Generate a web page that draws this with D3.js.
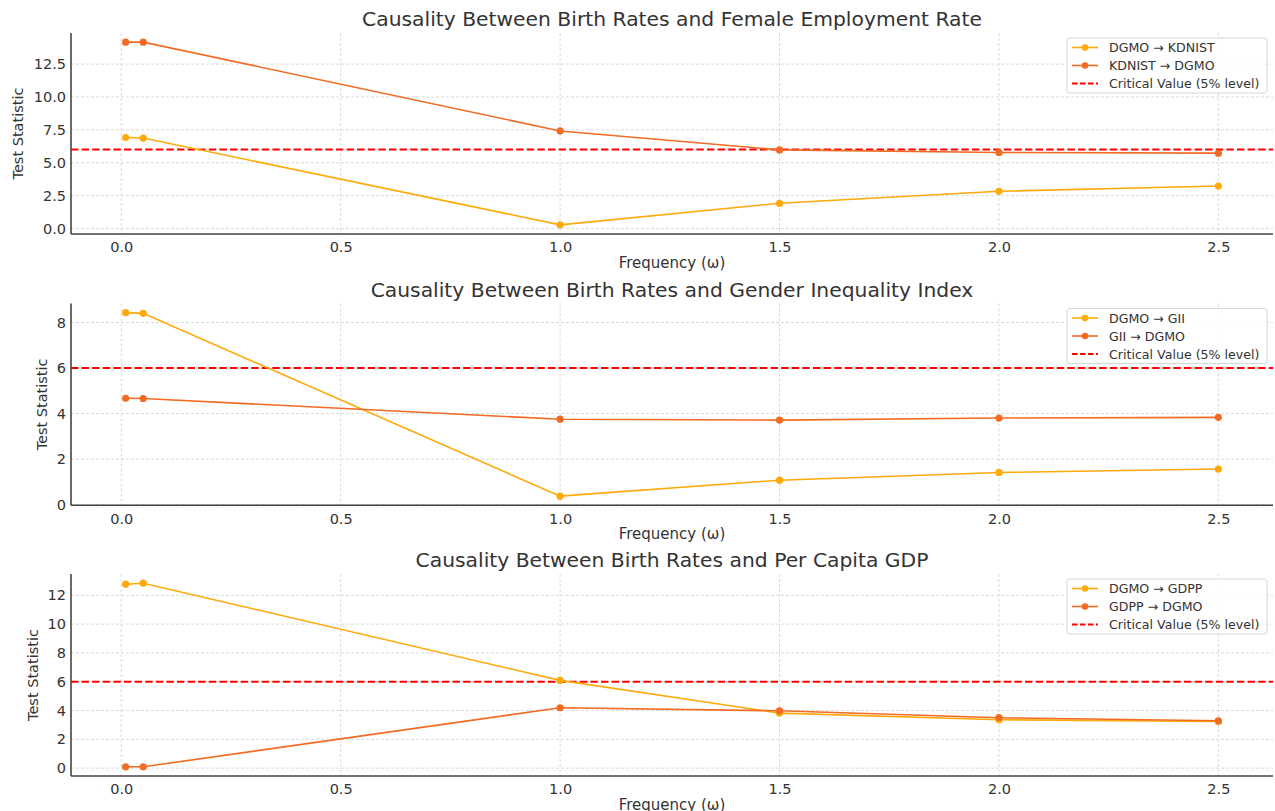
<!DOCTYPE html>
<html>
<head>
<meta charset="utf-8">
<script src="https://cdn.jsdelivr.net/npm/d3@7"></script>
<style>
  html, body { margin: 0; padding: 0; background: #fff; }
  svg { display: block; font-family: "DejaVu Sans", sans-serif; }
</style>
</head>
<body>
<svg id="chart" width="1275" height="811"></svg>
<script>
// ---- data ----
const frequencies = [0.01, 0.05, 1.0, 1.5, 2.0, 2.5];
const xTicks = [0.0, 0.5, 1.0, 1.5, 2.0, 2.5];
const criticalValue = 6;

const titles = [
  "Causality Between Birth Rates and Female Employment Rate",
  "Causality Between Birth Rates and Gender Inequality Index",
  "Causality Between Birth Rates and Per Capita GDP"
];

const dgmoToKdnist = [6.92, 6.88, 0.28, 1.92, 2.83, 3.23];
const kdnistToDgmo = [14.17, 14.17, 7.42, 5.98, 5.78, 5.73];

const dgmoToGii = [8.43, 8.40, 0.37, 1.07, 1.41, 1.56];
const giiToDgmo = [4.67, 4.66, 3.75, 3.71, 3.80, 3.83];

const dgmoToGdpp = [12.77, 12.84, 6.09, 3.82, 3.36, 3.24];
const gdppToDgmo = [0.09, 0.09, 4.19, 3.98, 3.50, 3.29];

const yTicks1 = [0, 2.5, 5, 7.5, 10, 12.5];
const yTicks2 = [0, 2, 4, 6, 8];
const yTicks3 = [0, 2, 4, 6, 8, 10, 12];

const legend1 = ["DGMO → KDNIST", "KDNIST → DGMO", "Critical Value (5% level)"];
const legend2 = ["DGMO → GII", "GII → DGMO", "Critical Value (5% level)"];
const legend3 = ["DGMO → GDPP", "GDPP → DGMO", "Critical Value (5% level)"];

const colorA = "#ffa90a";
const colorB = "#f26b22";

const panels = [
  { title: titles[0], a: dgmoToKdnist, b: kdnistToDgmo, yTicks: yTicks1, fmt: d3.format(".1f"), legend: legend1, top: 33, bottom: 234, ylabX: 18 },
  { title: titles[1], a: dgmoToGii, b: giiToDgmo, yTicks: yTicks2, fmt: d3.format("d"), legend: legend2, top: 303.5, bottom: 505.3, ylabX: 42 },
  { title: titles[2], a: dgmoToGdpp, b: gdppToDgmo, yTicks: yTicks3, fmt: d3.format("d"), legend: legend3, top: 574, bottom: 776, ylabX: 33 }
];

const svg = d3.select("#chart");
const left = 71, right = 1273;

function padDomain(vals) {
  const mn = d3.min(vals), mx = d3.max(vals);
  const m = (mx - mn) * 0.05;
  return [mn - m, mx + m];
}

const x = d3.scaleLinear().domain(padDomain(frequencies)).range([left, right]);

panels.forEach(p => {
  const g = svg.append("g");
  const y = d3.scaleLinear().domain(padDomain(p.a.concat(p.b))).range([p.bottom, p.top]);

  // grid
  g.append("g").selectAll("line").data(xTicks).join("line")
    .attr("x1", d => x(d)).attr("x2", d => x(d))
    .attr("y1", p.top).attr("y2", p.bottom)
    .attr("stroke", "#d0d0d0").attr("stroke-width", 0.8).attr("stroke-dasharray", "3,2");
  g.append("g").selectAll("line").data(p.yTicks).join("line")
    .attr("x1", left).attr("x2", right)
    .attr("y1", d => y(d)).attr("y2", d => y(d))
    .attr("stroke", "#d0d0d0").attr("stroke-width", 0.8).attr("stroke-dasharray", "3,2");

  // axes
  const xAxis = g.append("g").attr("transform", `translate(0,${p.bottom})`)
    .call(d3.axisBottom(x).tickValues(xTicks).tickFormat(d3.format(".1f")).tickSize(0).tickPadding(8));
  const yAxis = g.append("g").attr("transform", `translate(${left},0)`)
    .call(d3.axisLeft(y).tickValues(p.yTicks).tickFormat(p.fmt).tickSize(0).tickPadding(5));
  [xAxis, yAxis].forEach(a => {
    a.select(".domain").attr("stroke", "#444").attr("stroke-width", 1.6);
    a.selectAll("text").attr("font-family", "DejaVu Sans").attr("font-size", 14.5).attr("fill", "#333");
  });
  xAxis.select(".domain").attr("d", `M${left},0H${right}`);
  yAxis.select(".domain").attr("d", `M0,${p.top}V${p.bottom}`);

  // critical line
  g.append("line")
    .attr("x1", left).attr("x2", right)
    .attr("y1", y(criticalValue)).attr("y2", y(criticalValue))
    .attr("stroke", "#ff0000").attr("stroke-width", 2).attr("stroke-dasharray", "7.4,3.2");

  // series
  const line = d3.line().x((d, i) => x(frequencies[i])).y(d => y(d));
  [[p.a, colorA], [p.b, colorB]].forEach(([vals, col]) => {
    g.append("path").datum(vals).attr("d", line)
      .attr("fill", "none").attr("stroke", col).attr("stroke-width", 1.6);
    g.append("g").selectAll("circle").data(vals).join("circle")
      .attr("cx", (d, i) => x(frequencies[i])).attr("cy", d => y(d))
      .attr("r", 3.6).attr("fill", col);
  });

  // title
  g.append("text").attr("x", (left + right) / 2).attr("y", p.top - 7)
    .attr("text-anchor", "middle").attr("font-size", 20.3).attr("fill", "#333")
    .text(p.title);

  // axis labels
  g.append("text").attr("x", (left + right) / 2).attr("y", p.bottom + 34)
    .attr("text-anchor", "middle").attr("font-size", 15).attr("fill", "#333")
    .text("Frequency (ω)");
  g.append("text")
    .attr("transform", `translate(${p.ylabX},${(p.top + p.bottom) / 2}) rotate(-90)`)
    .attr("text-anchor", "middle").attr("dominant-baseline", "central")
    .attr("font-size", 14.5).attr("fill", "#333")
    .text("Test Statistic");

  // legend
  const lg = g.append("g").attr("transform", `translate(1067,${p.top + 5})`);
  lg.append("rect").attr("width", 200).attr("height", 55).attr("rx", 3)
    .attr("fill", "#fff").attr("fill-opacity", 0.85)
    .attr("stroke", "#d6d6d6").attr("stroke-width", 1);
  const items = [
    { label: p.legend[0], color: colorA, type: "marker" },
    { label: p.legend[1], color: colorB, type: "marker" },
    { label: p.legend[2], color: "#ff0000", type: "dash" }
  ];
  items.forEach((it, i) => {
    const cy = 9.5 + i * 18;
    if (it.type === "marker") {
      lg.append("line").attr("x1", 5).attr("x2", 31).attr("y1", cy).attr("y2", cy)
        .attr("stroke", it.color).attr("stroke-width", 1.6);
      lg.append("circle").attr("cx", 18).attr("cy", cy).attr("r", 3.3).attr("fill", it.color);
    } else {
      lg.append("line").attr("x1", 5).attr("x2", 31).attr("y1", cy).attr("y2", cy)
        .attr("stroke", it.color).attr("stroke-width", 2).attr("stroke-dasharray", "5.5,2.5");
    }
    lg.append("text").attr("x", 42).attr("y", cy).attr("dominant-baseline", "central")
      .attr("font-size", 12.6).attr("fill", "#333").text(it.label);
  });
});
</script>
</body>
</html>
